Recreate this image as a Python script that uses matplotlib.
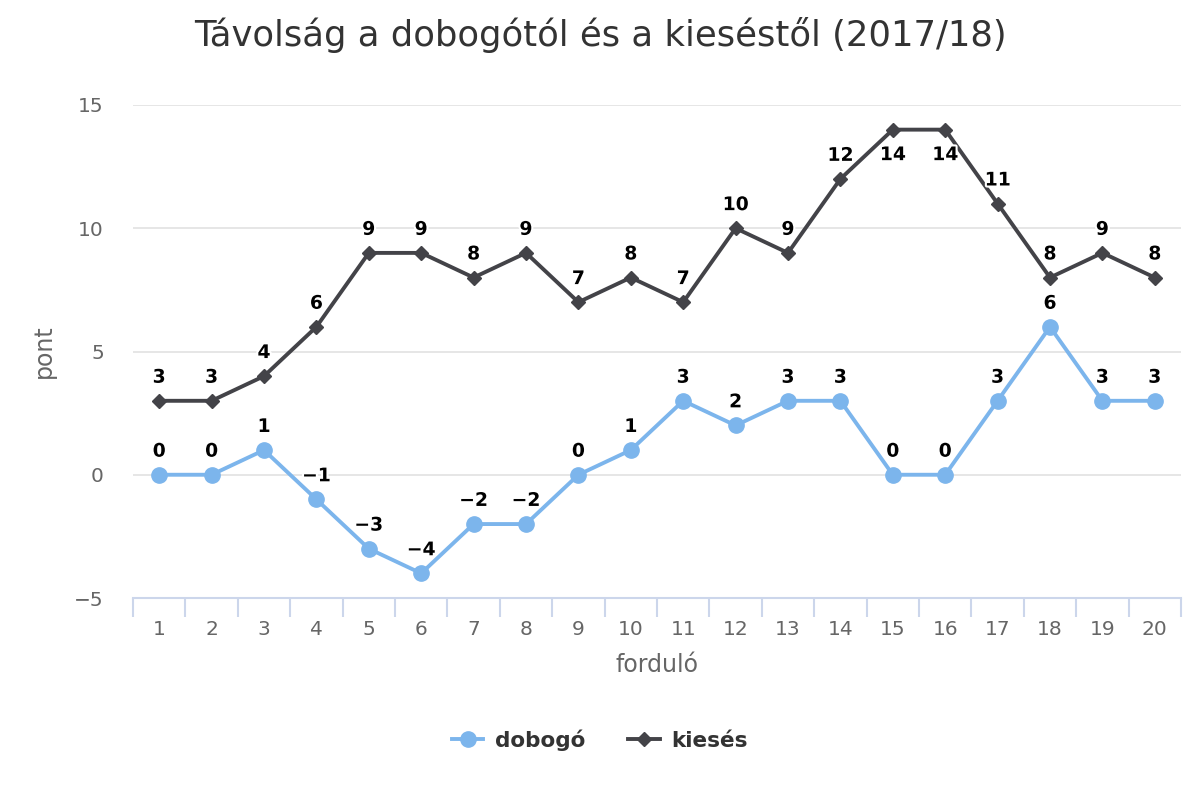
import matplotlib
matplotlib.use("Agg")
import matplotlib.pyplot as plt
import matplotlib.patheffects as pe
import numpy as np

rounds = [str(i) for i in range(1, 21)]
dobogo = [0, 0, 1, -1, -3, -4, -2, -2, 0, 1, 3, 2, 3, 3, 0, 0, 3, 6, 3, 3]
kieses = [3, 3, 4, 6, 9, 9, 8, 9, 7, 8, 7, 10, 9, 12, 14, 14, 11, 8, 9, 8]

plt.rcParams['font.family'] = ['DejaVu Sans']

fig = plt.figure(figsize=(12, 8), dpi=100)
ax = fig.add_axes([133 / 1200, 202 / 800, 1048 / 1200, 493 / 800])

x = np.arange(len(rounds))
ax.plot(x, dobogo, color="#7cb5ec", lw=2.8, marker="o", ms=11,
        mec="#7cb5ec", label="dobogó", zorder=3)
ax.plot(x, kieses, color="#434348", lw=2.8, marker="D", ms=7.5,
        mec="#434348", label="kiesés", zorder=3)

outline = [pe.withStroke(linewidth=3, foreground="white")]
for xi, v in zip(x, dobogo):
    lab = str(v).replace("-", "\u2212")
    ax.annotate(lab, (xi, v), xytext=(0, 17), textcoords="offset points",
                ha="center", va="center", fontsize=13.5, fontweight="bold",
                color="black", path_effects=outline, zorder=5)
for xi, v in zip(x, kieses):
    dy = -18 if v >= 14 else 17
    ax.annotate(str(v), (xi, v), xytext=(0, dy), textcoords="offset points",
                ha="center", va="center", fontsize=13.5, fontweight="bold",
                color="black", path_effects=outline, zorder=5)

ax.set_xlim(-0.5, len(rounds) - 0.5)
ax.set_ylim(-5, 15)
ax.set_yticks([-5, 0, 5, 10, 15])
ax.set_yticklabels(["\u22125", "0", "5", "10", "15"])
ax.set_xticks(x)
ax.set_xticklabels(rounds)
ax.set_xticks(np.arange(-0.5, len(rounds)), minor=True)
ax.tick_params(axis="x", which="major", length=0, pad=16, labelsize=14.5,
               labelcolor="#666666")
ax.tick_params(axis="x", which="minor", length=14, width=1.5, color="#ccd6eb")
ax.tick_params(axis="y", length=0, pad=21, labelsize=14.5, labelcolor="#666666")

ax.grid(axis="y", color="#e6e6e6", lw=1.4)
ax.set_axisbelow(True)
for s in ["top", "right", "left"]:
    ax.spines[s].set_visible(False)
ax.spines["bottom"].set_color("#ccd6eb")
ax.spines["bottom"].set_linewidth(1.5)

ax.set_xlabel("forduló", fontsize=17, color="#666666", labelpad=10)
ax.set_ylabel("pont", fontsize=17, color="#666666", labelpad=13)

fig.text(0.5, 1 - 35 / 800, "Távolság a dobogótól és a kieséstől (2017/18)",
         ha="center", va="center", fontsize=25.5, color="#333333")

leg = fig.legend(loc="center", bbox_to_anchor=(0.5, 1 - 740 / 800), ncol=2,
                 frameon=False, fontsize=15.5, handlelength=1.45,
                 columnspacing=2.0, handletextpad=0.55)
for t in leg.get_texts():
    t.set_fontweight("bold")
    t.set_color("#333333")

fig.savefig("out.png", dpi=100)
